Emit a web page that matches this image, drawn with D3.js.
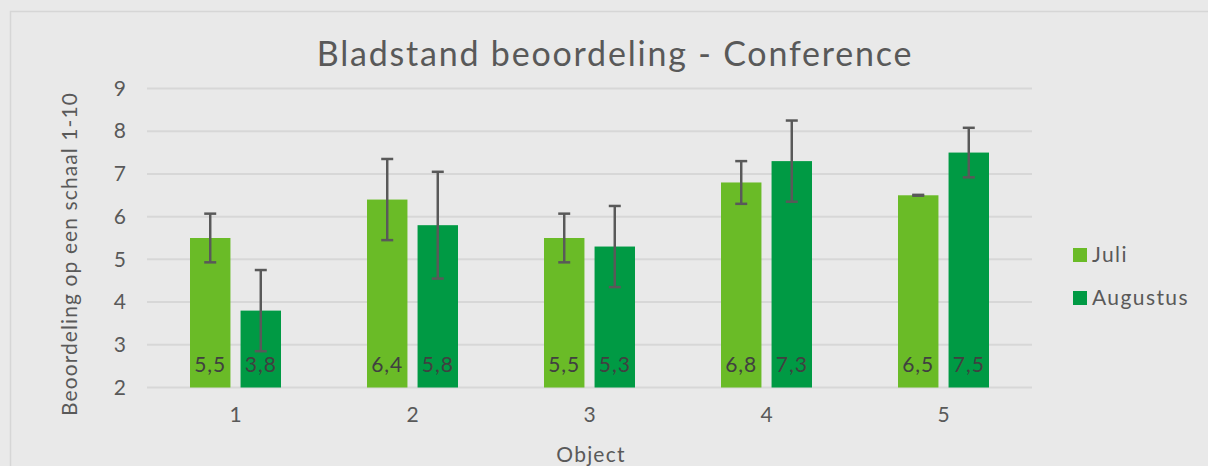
<!DOCTYPE html>
<html><head><meta charset="utf-8">
<script src="https://cdn.jsdelivr.net/npm/d3@7"></script>
<style>
html,body{margin:0;padding:0;background:#e9e9e9;}
svg{display:block;font-family:Lato,"Open Sans",sans-serif;}
</style></head>
<body>
<svg id="chart" width="1208" height="466"></svg>
<script>
const categories = ["1","2","3","4","5"];
const seriesNames = ["Juli","Augustus"];
const juli = [5.5, 6.4, 5.5, 6.8, 6.5];
const augustus = [3.8, 5.8, 5.3, 7.3, 7.5];
const juliErr = [0.57, 0.95, 0.57, 0.5, 0.01];
const augustusErr = [0.95, 1.25, 0.95, 0.95, 0.58];
const yTicks = [2,3,4,5,6,7,8,9];
const colors = ["#6abb27", "#009a44"];

const svg = d3.select("#chart");
const W = 1208, H = 466;
const m = {left:147, right:1032, top:88.5, bottom:387.5};

svg.append("rect").attr("x",0).attr("y",0).attr("width",W).attr("height",H).attr("fill","#e9e9e9");
svg.append("rect").attr("x",10.5).attr("y",11.5).attr("width",1300).attr("height",600)
  .attr("fill","none").attr("stroke","#d6d6d6").attr("stroke-width",1.5);

const x0 = d3.scaleBand().domain(categories).range([m.left, m.right]).paddingInner(0).paddingOuter(0);
const x1 = d3.scaleBand().domain(seriesNames).range([x0.bandwidth()/2-45.5, x0.bandwidth()/2+45.5]).paddingInner(0.2);
const y = d3.scaleLinear().domain([2,9]).range([m.bottom, m.top]);

// gridlines
svg.append("g").selectAll("line").data(yTicks).join("line")
  .attr("x1", m.left).attr("x2", m.right)
  .attr("y1", d=>y(d)).attr("y2", d=>y(d))
  .attr("stroke","#d7d7d7").attr("stroke-width",2);

// y axis labels
const yAxis = d3.axisLeft(y).tickValues(yTicks).tickSize(0).tickPadding(0).tickFormat(d3.format("d"));
const gy = svg.append("g").attr("transform",`translate(126,0)`).call(yAxis);
gy.select(".domain").remove();
gy.selectAll("text").attr("font-size",21).attr("fill","#595959").attr("font-family","Lato,'Open Sans',sans-serif");

// x axis labels
const xAxis = d3.axisBottom(x0).tickSize(0).tickPadding(0);
const gx = svg.append("g").attr("transform",`translate(0,${m.bottom+20})`).call(xAxis);
gx.select(".domain").remove();
gx.selectAll("text").attr("font-size",21).attr("fill","#595959").attr("font-family","Lato,'Open Sans',sans-serif");

const rows = categories.map((c,i)=>({cat:c, vals:[
  {s:seriesNames[0], v:juli[i], e:juliErr[i], k:0},
  {s:seriesNames[1], v:augustus[i], e:augustusErr[i], k:1}]}));

const groups = svg.append("g").selectAll("g").data(rows).join("g")
  .attr("transform", d=>`translate(${x0(d.cat)},0)`);

groups.selectAll("rect").data(d=>d.vals).join("rect")
  .attr("x", d=>x1(d.s)).attr("width", x1.bandwidth())
  .attr("y", d=>y(d.v)).attr("height", d=>y(2)-y(d.v))
  .attr("fill", d=>colors[d.k]);

// data labels
groups.selectAll("text.lbl").data(d=>d.vals).join("text").attr("class","lbl")
  .attr("x", d=>x1(d.s)+x1.bandwidth()/2).attr("y", y(2)-16)
  .attr("text-anchor","middle").attr("font-size",21).attr("letter-spacing",1).attr("fill","#404040")
  .text(d=>d3.format(".1f")(d.v).replace(".",","));

// error bars
const eb = groups.selectAll("g.err").data(d=>d.vals).join("g").attr("class","err")
  .attr("stroke","#595959").attr("stroke-width",2.5);
eb.append("line").attr("x1", d=>x1(d.s)+x1.bandwidth()/2).attr("x2", d=>x1(d.s)+x1.bandwidth()/2)
  .attr("y1", d=>y(d.v+d.e)).attr("y2", d=>y(d.v-d.e));
eb.append("line").attr("x1", d=>x1(d.s)+x1.bandwidth()/2-6).attr("x2", d=>x1(d.s)+x1.bandwidth()/2+6)
  .attr("y1", d=>y(d.v+d.e)).attr("y2", d=>y(d.v+d.e));
eb.append("line").attr("x1", d=>x1(d.s)+x1.bandwidth()/2-6).attr("x2", d=>x1(d.s)+x1.bandwidth()/2+6)
  .attr("y1", d=>y(d.v-d.e)).attr("y2", d=>y(d.v-d.e));

// title
svg.append("text").attr("x",615).attr("y",66).attr("text-anchor","middle")
  .attr("font-size",34).attr("letter-spacing",1.8).attr("fill","#595959").text("Bladstand beoordeling - Conference");

// axis titles
svg.append("text").attr("transform",`translate(77,254) rotate(-90)`)
  .attr("text-anchor","middle").attr("font-size",21).attr("letter-spacing",1.1).attr("fill","#595959")
  .text("Beoordeling op een schaal 1-10");
svg.append("text").attr("x",591).attr("y",462).attr("text-anchor","middle")
  .attr("font-size",21).attr("letter-spacing",1.2).attr("fill","#595959").text("Object");

// legend
const lg = svg.append("g").selectAll("g").data(seriesNames).join("g")
  .attr("transform",(d,i)=>`translate(1073,${248+i*43})`);
lg.append("rect").attr("width",14).attr("height",14).attr("fill",(d,i)=>colors[i]);
lg.append("text").attr("x",19).attr("y",14).attr("font-size",21).attr("letter-spacing",1.4).attr("fill","#595959").text(d=>d);
</script>
</body></html>
